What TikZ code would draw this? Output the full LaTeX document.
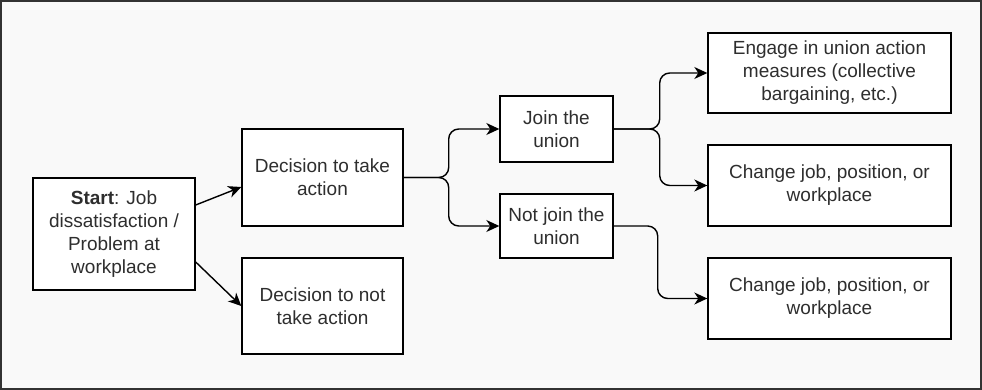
\documentclass[tikz,border=0pt]{standalone}
\usepackage{fontspec}
\setmainfont{Liberation Sans}
\usetikzlibrary{arrows.meta}

\definecolor{framegray}{HTML}{333333}
\definecolor{bggray}{HTML}{F9F9F9}
\definecolor{textgray}{HTML}{2E2E2E}

\begin{document}
\begin{tikzpicture}[x=1pt, y=-1pt, >={Stealth[length=13pt, width=12pt, inset=4pt]},
    every node/.style={font=\fontsize{19}{23}\selectfont, text=textgray, align=center},
    box/.style={draw, fill=white, line width=1.4pt, inner sep=0pt},
    link/.style={->, line width=1.4pt, rounded corners=10pt}]

    % Frame
    \useasboundingbox (0, 0) rectangle (982, 390);
    \draw[fill=bggray, draw=framegray, line width=1.6pt] (1, 1) rectangle (981, 389);

    % Start
    \node[box, minimum width=162, minimum height=112] at (114, 234) (start) {\textbf{Start}: Job\\dissatisfaction /\\Problem at\\workplace};

    % Decisions
    \node[box, minimum width=161, minimum height=97] at (322.5, 177.5) (takeAct) {Decision to take\\action};
    \node[box, minimum width=161, minimum height=96] at (322.5, 306) (notAct) {Decision to not\\take action};

    \draw[link] ([yshift=29pt]start.east) -- ([yshift=-9.5pt]takeAct.west);
    \draw[link] ([yshift=-28pt]start.east) -- (notAct.west);

    % Union choice
    \node[box, minimum width=113, minimum height=66] at (556.5, 129) (join) {Join the\\union};
    \node[box, minimum width=113, minimum height=64] at (556.5, 226) (notJoin) {Not join the\\union};

    \draw[link] (takeAct.east) -- ++(45, 0) |- (join.west);
    \draw[link] (takeAct.east) -- ++(45, 0) |- (notJoin.west);

    % Outcomes
    \node[box, minimum width=243, minimum height=80] at (829.5, 73) (engage) {Engage in union action\\measures (collective\\bargaining, etc.)};
    \node[box, minimum width=243, minimum height=81] at (829.5, 185.5) (changeA) {Change job, position, or\\workplace};
    \node[box, minimum width=243, minimum height=81] at (829.5, 298.5) (changeB) {Change job, position, or\\workplace};

    \draw[link] (join.east) -- ++(46, 0) |- (engage.west);
    \draw[link] (join.east) -- ++(46, 0) |- (changeA.west);
    \draw[link] (notJoin.east) -- ++(44, 0) |- (changeB.west);
\end{tikzpicture}
\end{document}
